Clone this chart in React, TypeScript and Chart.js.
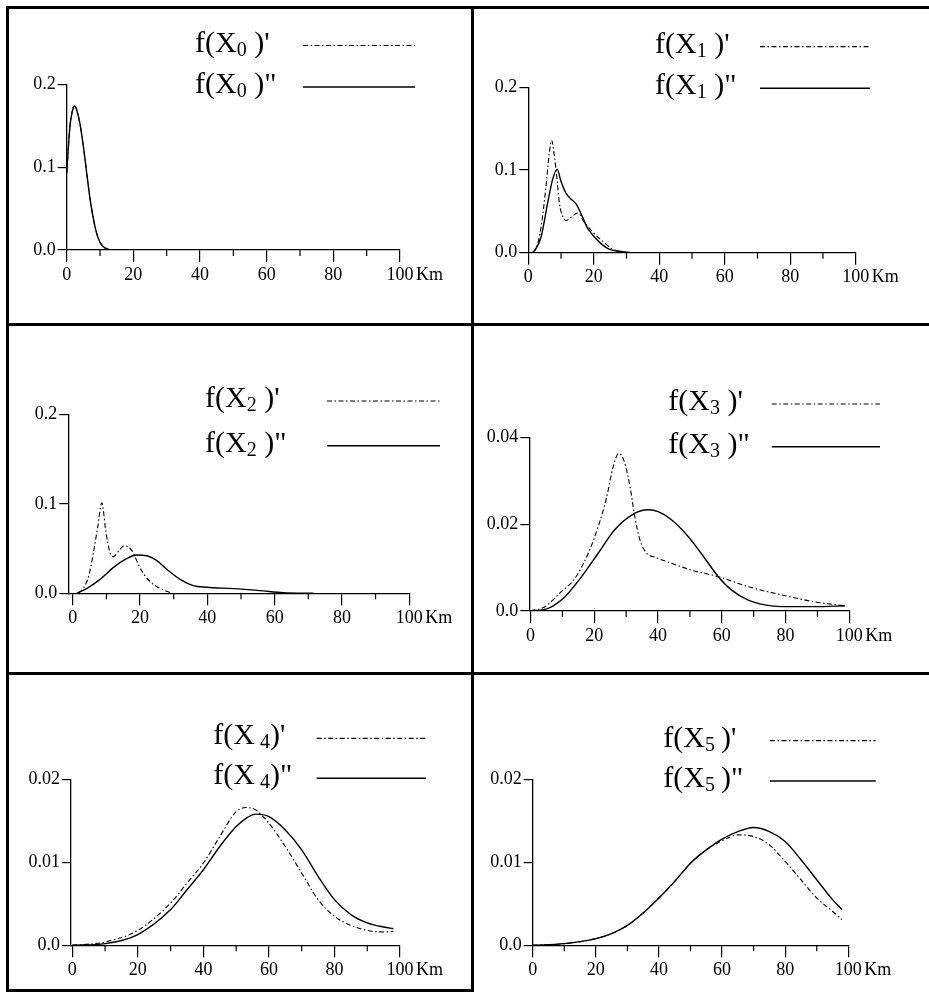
import React, { useEffect, useRef } from "react";
import { Chart, registerables } from "chart.js";

Chart.register(...registerables);

const SERIF = "'Liberation Serif', 'Times New Roman', serif";

// ---------- tick values / labels ----------
const xTickValues = [0, 20, 40, 60, 80, 100];
const xMinorTicks = [10, 30, 50, 70, 90];
const yTicksBig = [0, 0.1, 0.2];
const yLabelsBig = ["0.0", "0.1", "0.2"];
const yTicksX3 = [0, 0.02, 0.04];
const yLabelsX3 = ["0.0", "0.02", "0.04"];
const yTicksSmall = [0, 0.01, 0.02];
const yLabelsSmall = ["0.0", "0.01", "0.02"];

// ---------- X0 ----------
const kmX0 = [0, 1, 2, 2.4, 3, 4, 5, 6, 7, 8, 9, 10, 11, 12, 13.5, 16];
const fX0p = [0.093, 0.15, 0.172, 0.174, 0.169, 0.152, 0.125, 0.093, 0.062, 0.038, 0.02, 0.009, 0.004, 0.0015, 0, 0];
const fX0pp = [0.093, 0.15, 0.172, 0.174, 0.169, 0.152, 0.125, 0.093, 0.062, 0.038, 0.02, 0.009, 0.004, 0.0015, 0, 0];

// ---------- X1 ----------
const kmX1p = [1.3, 2.5, 3.9, 5.4, 6.4, 7.1, 8, 8.8, 9.5, 10.5, 11.5, 13.1, 15.1, 17.1, 19.2, 21.2, 23.3, 25.3, 28.4, 32];
const fX1p = [0, 0.006, 0.031, 0.08, 0.12, 0.136, 0.116, 0.088, 0.06, 0.044, 0.039, 0.043, 0.048, 0.037, 0.027, 0.019, 0.012, 0.005, 0.001, 0];
const kmX1pp = [1.3, 2.3, 3.9, 5.9, 7.4, 8.8, 10, 11.5, 13, 14.6, 16, 18.2, 20.2, 22.2, 24.3, 27.3, 31.4];
const fX1pp = [0, 0.005, 0.019, 0.06, 0.088, 0.101, 0.086, 0.072, 0.065, 0.059, 0.048, 0.029, 0.019, 0.011, 0.005, 0.002, 0];

// ---------- X2 ----------
const kmX2p = [1.7, 3.2, 4.7, 6.1, 7.4, 8.6, 9.9, 11.1, 12.1, 13.6, 15.2, 16.5, 18, 19.5, 21, 23, 25, 27, 29];
const fX2p = [0, 0.006, 0.019, 0.045, 0.074, 0.101, 0.067, 0.045, 0.041, 0.047, 0.053, 0.052, 0.045, 0.032, 0.022, 0.013, 0.0074, 0.0037, 0.0007];
const kmX2pp = [1.2, 4.2, 8.1, 12.1, 16, 19, 22, 25, 27.9, 31.9, 35.8, 39.8, 47.7, 55.6, 62.6, 71.5];
const fX2pp = [0, 0.0056, 0.0156, 0.029, 0.0387, 0.0428, 0.042, 0.0365, 0.0268, 0.0156, 0.0086, 0.0067, 0.0052, 0.003, 0.0007, 0];

// ---------- X3 ----------
const kmX3p = [0, 4.5, 9.7, 13.9, 18.1, 21.2, 23.9, 25.9, 27.7, 29.4, 31.2, 32.7, 34.3, 36.4, 39, 44.2, 50.5, 58.9, 68.3, 78.8, 89.2, 98.6];
const fX3p = [0, 0.001, 0.0045, 0.0075, 0.0133, 0.0194, 0.0263, 0.0332, 0.0363, 0.0344, 0.0286, 0.0217, 0.0164, 0.0133, 0.0124, 0.011, 0.0094, 0.0079, 0.0056, 0.0037, 0.0021, 0.0012];
const kmX3pp = [0, 5.5, 10.8, 16, 21.2, 26.4, 31.7, 36.9, 40, 44.2, 49.5, 54.7, 58.9, 63.1, 68.3, 73.5, 78.8, 89.2, 98.6];
const fX3pp = [0, 0.0006, 0.0033, 0.0079, 0.0133, 0.0187, 0.0221, 0.0233, 0.0229, 0.021, 0.0171, 0.0121, 0.0079, 0.0048, 0.0025, 0.0014, 0.001, 0.001, 0.0012];

// ---------- X4 ----------
const kmX4 = [0, 10, 20, 30, 35, 40, 45, 50, 53, 56, 60, 65, 70, 75, 80, 85, 90, 95, 98];
const fX4p = [0, 0.0004, 0.0018, 0.0051, 0.0075, 0.0099, 0.0131, 0.0161, 0.0166, 0.0163, 0.0147, 0.0119, 0.0087, 0.0055, 0.0035, 0.0024, 0.0018, 0.0016, 0.0017];
const fX4pp = [0, 0.0002, 0.0013, 0.0043, 0.0067, 0.0091, 0.0119, 0.0143, 0.0153, 0.0158, 0.0155, 0.0139, 0.0115, 0.0083, 0.0055, 0.0037, 0.0027, 0.0022, 0.002];

// ---------- X5 ----------
const kmX5 = [0, 10, 20, 25, 30, 35, 40, 45, 50, 55, 60, 65, 70, 75, 80, 85, 90, 95, 98];
const fX5p = [0, 0.0002, 0.0008, 0.0014, 0.0024, 0.0039, 0.0057, 0.0077, 0.0099, 0.0115, 0.0126, 0.0133, 0.0131, 0.0121, 0.0101, 0.0079, 0.0057, 0.0041, 0.0031];
const fX5pp = [0, 0.0002, 0.0008, 0.0014, 0.0024, 0.0039, 0.0057, 0.0077, 0.0099, 0.0115, 0.0128, 0.0137, 0.0142, 0.0137, 0.0125, 0.0103, 0.0079, 0.0055, 0.0043];

const subscripts = ["0", "1", "2", "3", " 4", "5"];
const closers = [" )", " )", " )", " )", ")", "\u2009)"];

type PanelSpec = {
  left: number; top: number; w: number; h: number;
  axisX: number; x100: number; yTop: number; yZero: number;
  xMin: number; yMax: number; yTicks: number[]; yLabels: string[];
  idx: number; legendX: number; row1Y: number; row2Y: number; lineX1: number; lineX2: number;
  s1: [number[], number[]]; s2: [number[], number[]];
};

const panels: PanelSpec[] = [
  { left: 9, top: 9, w: 461, h: 314, axisX: 57.7, x100: 391, yTop: 75.3, yZero: 241, xMin: 0, yMax: 0.2,
    yTicks: yTicksBig, yLabels: yLabelsBig, idx: 0, legendX: 186, row1Y: 36.5, row2Y: 78, lineX1: 294, lineX2: 406,
    s1: [kmX0, fX0p], s2: [kmX0, fX0pp] },
  { left: 474, top: 9, w: 455, h: 314, axisX: 54.3, x100: 381.7, yTop: 78.3, yZero: 243.7, xMin: 0, yMax: 0.2,
    yTicks: yTicksBig, yLabels: yLabelsBig, idx: 1, legendX: 181, row1Y: 37.7, row2Y: 79.3, lineX1: 286, lineX2: 396,
    s1: [kmX1p, fX1p], s2: [kmX1pp, fX1pp] },
  { left: 9, top: 326, w: 461, h: 346, axisX: 59.3, x100: 400.2, yTop: 88.3, yZero: 267.3, xMin: -1.34, yMax: 0.2,
    yTicks: yTicksBig, yLabels: yLabelsBig, idx: 2, legendX: 196, row1Y: 75, row2Y: 119.7, lineX1: 318, lineX2: 431,
    s1: [kmX2p, fX2p], s2: [kmX2pp, fX2pp] },
  { left: 474, top: 326, w: 455, h: 346, axisX: 55.3, x100: 375.3, yTop: 111.3, yZero: 285, xMin: -0.4, yMax: 0.04,
    yTicks: yTicksX3, yLabels: yLabelsX3, idx: 3, legendX: 194.3, row1Y: 78, row2Y: 120.7, lineX1: 297.7, lineX2: 406,
    s1: [kmX3p, fX3p], s2: [kmX3pp, fX3pp] },
  { left: 9, top: 675, w: 461, h: 314, axisX: 62, x100: 391, yTop: 104.3, yZero: 270.3, xMin: -0.4, yMax: 0.02,
    yTicks: yTicksSmall, yLabels: yLabelsSmall, idx: 4, legendX: 204.3, row1Y: 63.3, row2Y: 103.3, lineX1: 307.7, lineX2: 417,
    s1: [kmX4, fX4p], s2: [kmX4, fX4pp] },
  { left: 474, top: 675, w: 455, h: 317, axisX: 58.7, x100: 374.3, yTop: 104.3, yZero: 270.3, xMin: 0, yMax: 0.02,
    yTicks: yTicksSmall, yLabels: yLabelsSmall, idx: 5, legendX: 189.3, row1Y: 65.7, row2Y: 106, lineX1: 296, lineX2: 401.7,
    s1: [kmX5, fX5p], s2: [kmX5, fX5pp] },
];

const Y_AXIS_W = 50;
const X_AXIS_H = 40;
const X_TICK_LEN = 12;
const X_TICK_PAD = 2;
const TICK_FONT = 18;
const DASH = [5, 2.5, 1.5, 2.5];

function Panel({ spec }: { spec: PanelSpec }) {
  const ref = useRef<HTMLCanvasElement | null>(null);

  useEffect(() => {
    const canvas = ref.current;
    if (!canvas) return;
    const sub = subscripts[spec.idx];
    const closer = closers[spec.idx];

    const drawLegendRow = (ctx: CanvasRenderingContext2D, lineY: number, prime: string, dash: number[], lw: number) => {
      const base = lineY + 6;
      ctx.textAlign = "left";
      ctx.textBaseline = "alphabetic";
      ctx.fillStyle = "#000";
      ctx.font = `30px ${SERIF}`;
      ctx.fillText("f(X", spec.legendX, base);
      let cx = spec.legendX + ctx.measureText("f(X").width;
      ctx.font = `20px ${SERIF}`;
      ctx.fillText(sub, cx, base + 4);
      cx += ctx.measureText(sub).width;
      ctx.font = `30px ${SERIF}`;
      ctx.fillText(closer + prime, cx, base);
      ctx.strokeStyle = "#000";
      ctx.lineWidth = lw;
      ctx.setLineDash(dash);
      ctx.beginPath();
      ctx.moveTo(spec.lineX1, lineY);
      ctx.lineTo(spec.lineX2, lineY);
      ctx.stroke();
      ctx.setLineDash([]);
    };

    const decor = {
      id: "decor" + spec.idx,
      afterDraw(chart: any) {
        const ctx: CanvasRenderingContext2D = chart.ctx;
        const xs = chart.scales.x;
        ctx.save();
        ctx.strokeStyle = "#000";
        ctx.lineWidth = 1.2;
        xMinorTicks.forEach((v) => {
          const px = xs.getPixelForValue(v);
          ctx.beginPath();
          ctx.moveTo(px, xs.top);
          ctx.lineTo(px, xs.top + 6);
          ctx.stroke();
        });
        ctx.font = `${TICK_FONT}px ${SERIF}`;
        ctx.fillStyle = "#000";
        ctx.textAlign = "left";
        ctx.textBaseline = "middle";
        ctx.fillText("Km", xs.getPixelForValue(100) + 16, xs.top + X_TICK_LEN + X_TICK_PAD + TICK_FONT * 0.6);
        drawLegendRow(ctx, spec.row1Y, "'", DASH, 1.2);
        drawLegendRow(ctx, spec.row2Y, '"', [], 1.5);
        ctx.restore();
      },
    };

    const toPts = (s: [number[], number[]]) => s[0].map((x, i) => ({ x, y: s[1][i] }));

    const chart = new Chart(canvas, {
      type: "line",
      data: {
        datasets: [
          {
            label: `f(X${sub.trim()})'`,
            data: toPts(spec.s1),
            borderColor: "#000",
            borderWidth: 1.1,
            borderDash: DASH,
            pointRadius: 0,
            cubicInterpolationMode: "monotone",
            fill: false,
          },
          {
            label: `f(X${sub.trim()})"`,
            data: toPts(spec.s2),
            borderColor: "#000",
            borderWidth: 1.4,
            pointRadius: 0,
            cubicInterpolationMode: "monotone",
            fill: false,
          },
        ],
      },
      options: {
        responsive: false,
        animation: false,
        devicePixelRatio: 1,
        layout: {
          padding: {
            left: spec.axisX - Y_AXIS_W,
            right: spec.w - spec.x100,
            top: spec.yTop,
            bottom: spec.h - spec.yZero - X_AXIS_H,
          },
        },
        plugins: { legend: { display: false }, tooltip: { enabled: false } },
        scales: {
          x: {
            type: "linear",
            min: spec.xMin,
            max: 100,
            afterBuildTicks: (s: any) => {
              s.ticks = xTickValues.map((v) => ({ value: v }));
            },
            afterFit: (s: any) => {
              s.height = X_AXIS_H;
            },
            border: { display: true, color: "#000", width: 1.3 },
            grid: { display: true, drawOnChartArea: false, drawTicks: true, tickLength: X_TICK_LEN, color: "#000", lineWidth: 1.2 },
            ticks: {
              color: "#000",
              font: { family: SERIF, size: TICK_FONT },
              padding: X_TICK_PAD,
              maxRotation: 0,
              autoSkip: false,
              callback: (v: any) => String(v),
            },
          },
          y: {
            type: "linear",
            min: 0,
            max: spec.yMax,
            afterBuildTicks: (s: any) => {
              s.ticks = spec.yTicks.map((v) => ({ value: v }));
            },
            afterFit: (s: any) => {
              s.width = Y_AXIS_W;
            },
            border: { display: true, color: "#000", width: 1.3 },
            grid: { display: true, drawOnChartArea: false, drawTicks: true, tickLength: 9, color: "#000", lineWidth: 1.2 },
            ticks: {
              color: "#000",
              font: { family: SERIF, size: TICK_FONT },
              padding: 2,
              autoSkip: false,
              callback: (_v: any, i: number) => spec.yLabels[i],
            },
          },
        },
      } as any,
      plugins: [decor],
    });
    return () => chart.destroy();
  }, [spec]);

  return (
    <canvas
      ref={ref}
      width={spec.w}
      height={spec.h}
      style={{ position: "absolute", left: spec.left, top: spec.top, width: spec.w, height: spec.h }}
    />
  );
}

const frameLines = [
  { left: 6, top: 6, width: 923, height: 3 },
  { left: 6, top: 6, width: 3, height: 986 },
  { left: 471, top: 6, width: 3, height: 986 },
  { left: 6, top: 323, width: 923, height: 3 },
  { left: 6, top: 672, width: 923, height: 3 },
  { left: 6, top: 989, width: 468, height: 3 },
];

export default function App() {
  return (
    <div style={{ position: "absolute", left: 0, top: 0, width: 929, height: 992, background: "#fff", overflow: "hidden" }}>
      {panels.map((p) => (
        <Panel key={p.idx} spec={p} />
      ))}
      {frameLines.map((l, i) => (
        <div key={i} style={{ position: "absolute", background: "#000", ...l }} />
      ))}
    </div>
  );
}
